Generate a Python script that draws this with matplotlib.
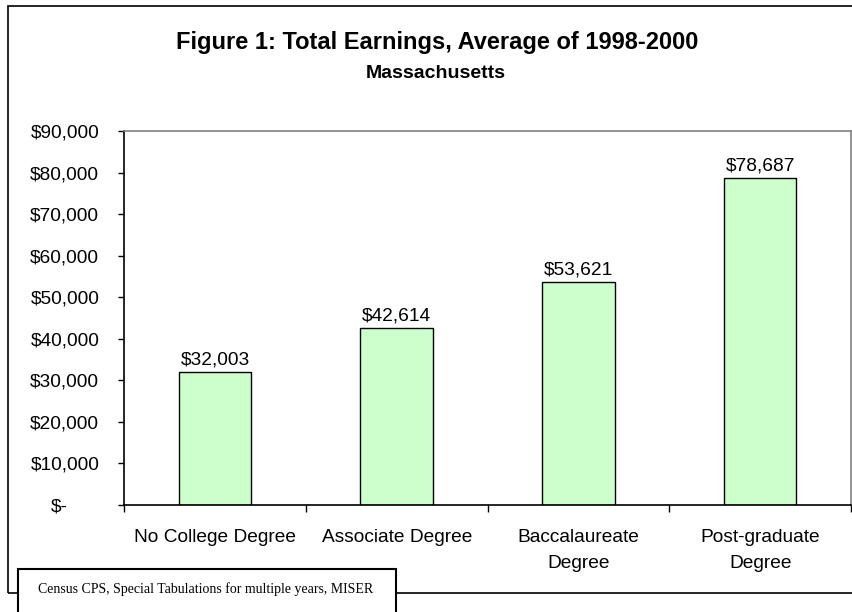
import matplotlib
matplotlib.use("Agg")
import matplotlib.pyplot as plt
from matplotlib.patches import Rectangle
from matplotlib.transforms import ScaledTranslation

plt.rcParams["font.family"] = ["Liberation Sans", "DejaVu Sans"]

# Average total earnings 1998-2000 by education level
categories = ["No College Degree", "Associate Degree",
              "Baccalaureate\nDegree", "Post-graduate\nDegree"]
earnings = [32003, 42614, 53621, 78687]
y_ticks = [0, 10000, 20000, 30000, 40000, 50000, 60000, 70000, 80000, 90000]


def money(v):
    if v == 0:
        return "$-"
    return "${:,.0f}".format(v)


fig = plt.figure(figsize=(8.53, 6.12), dpi=100)
W, H = 853.0, 612.0

# Outer chart frame (right edge runs off the page)
fig.patches.append(Rectangle((8 / W, 1 - 593 / H), 2.0, (593 - 6) / H,
                             transform=fig.transFigure, fill=False,
                             edgecolor="black", linewidth=1.2))

ax = fig.add_axes([124.3 / W, 1 - 505 / H, (851 - 124.3) / W, (505 - 131) / H])

x = range(len(categories))
bars = ax.bar(x, earnings, width=0.4, color="#ccffcc", edgecolor="black",
              linewidth=1.0, zorder=2)

for rect, val in zip(bars, earnings):
    ax.annotate(money(val), (rect.get_x() + rect.get_width() / 2, val),
                xytext=(0, 2.5), textcoords="offset points",
                ha="center", va="bottom", fontsize=13.8)

ax.set_xlim(-0.5, len(categories) - 0.5)
ax.set_ylim(0, 90000)

# Ticks at category boundaries, labels centred on the bars
ax.set_xticks([i - 0.5 for i in range(len(categories) + 1)])
ax.set_xticklabels([])
ax.set_xticks(list(x), minor=True)
ax.set_xticklabels(categories, minor=True, fontsize=13.8, linespacing=1.72)
ax.tick_params(axis="x", which="major", direction="out", length=5, width=1)
ax.tick_params(axis="x", which="minor", length=0, pad=17)

ax.set_yticks(y_ticks)
ax.set_yticklabels([money(v) for v in y_ticks], fontsize=13.8)
ax.tick_params(axis="y", direction="out", length=4.5, width=1, pad=13.5)

# Accounting-style zero label sits further left
zero_label = ax.get_yticklabels()[0]
zero_label.set_transform(zero_label.get_transform()
                         + ScaledTranslation(-0.32, 0, fig.dpi_scale_trans))

for side in ("left", "bottom"):
    ax.spines[side].set_color("black")
    ax.spines[side].set_linewidth(1.2)
for side in ("top", "right"):
    ax.spines[side].set_color("#808080")
    ax.spines[side].set_linewidth(1.2)

fig.text(437 / W, 1 - 42 / H, "Figure 1: Total Earnings, Average of 1998-2000",
         ha="center", va="center", fontsize=17, fontweight="bold")
fig.text(436 / W, 1 - 74 / H, "Massachusetts",
         ha="center", va="center", fontsize=14, fontweight="bold")

# Source note box over the lower left corner
fig.patches.append(Rectangle((18 / W, -0.05), (396 - 18) / W, 0.05 + (612 - 569) / H,
                             transform=fig.transFigure, facecolor="white",
                             edgecolor="black", linewidth=1.5, zorder=5))
fig.text(38 / W, 1 - 589 / H,
         "Census CPS, Special Tabulations for multiple years, MISER",
         ha="left", va="center", fontsize=10, family="Liberation Serif", zorder=6)

fig.savefig("out.png", dpi=100)
